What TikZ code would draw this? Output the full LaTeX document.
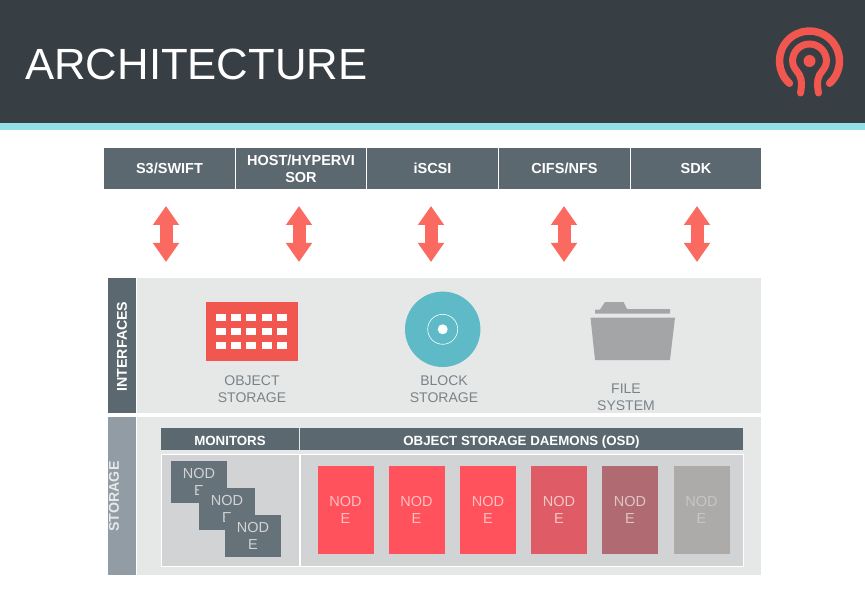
\documentclass[tikz,border=0pt]{standalone}
\usepackage{fontspec}
\setmainfont{Liberation Sans}
\usetikzlibrary{arrows.meta}

\definecolor{headdark}{HTML}{373E44}
\definecolor{headband}{HTML}{92E1E8}
\definecolor{slate}{HTML}{5C6870}
\definecolor{slatelight}{HTML}{929CA4}
\definecolor{panelgray}{HTML}{E6E8E8}
\definecolor{innergray}{HTML}{D1D3D5}
\definecolor{monitorgray}{HTML}{66727A}
\definecolor{arrowred}{HTML}{FB6A60}
\definecolor{iconred}{HTML}{F2574F}
\definecolor{icondisk}{HTML}{5DBAC6}
\definecolor{iconfolder}{HTML}{A3A5A7}
\definecolor{labelgray}{HTML}{7A8288}

\tikzset{
	bluntbox/.style={rectangle, inner sep=0pt, align=center},
	topbox/.style={bluntbox, fill=slate, text=white, minimum width=131, minimum height=41, font=\bfseries\fontsize{14.5}{17}\selectfont},
	sidetext/.style={bluntbox, rotate=90, font=\bfseries\fontsize{14.2}{16}\selectfont},
	headbox/.style={bluntbox, fill=slate, text=white, minimum height=22, text height=12, text depth=0, font=\bfseries\fontsize{13.3}{15}\selectfont},
	bodybox/.style={bluntbox, fill=innergray, draw=white, line width=1pt, minimum height=112},
	nodebox/.style={bluntbox, minimum width=56, font=\fontsize{14.5}{17}\selectfont},
	iconlabel/.style={bluntbox, text=labelgray, font=\fontsize{14}{17}\selectfont},
	updown/.style={line width=13pt, draw=arrowred, {Triangle[width=25pt,length=19pt]}-{Triangle[width=25pt,length=19pt]}}
}

\begin{document}
\begin{tikzpicture}[x=1pt,y=-1pt]
\useasboundingbox (0,0) rectangle (865,596);
\fill[white] (0,0) rectangle (865,596);
\fill[headdark] (0,0) rectangle (865,123);
\fill[headband] (0,123) rectangle (865,130);
\node[bluntbox, text=white, anchor=west, font=\fontsize{43.7}{50}\selectfont] (title) at (25,64) {ARCHITECTURE};

% logo
\begin{scope}[shift={(809.5,61)}, y=1pt, draw=iconred, line cap=round]
	\fill[iconred] (0,0) circle (6);
	\draw[line width=7.5pt] (228:30) arc (228:-48:30);
	\draw[line width=7pt] (-9,-32) .. controls (-8,-26) and (-7,-20) .. (-10,-14) .. controls (-13,-9) and (-17,-6) .. (-17,0) arc (180:0:17) .. controls (17,-6) and (13,-9) .. (10,-14) .. controls (7,-20) and (8,-26) .. (9,-32);
\end{scope}

% top row
\node[topbox] (s3) at (169.5,168.5) {S3/SWIFT};
\node[topbox, minimum width=130] (host) at (301,168.5) {HOST/HYPERVI\\SOR};
\node[topbox] (iscsi) at (432.5,168.5) {iSCSI};
\node[topbox] (cifs) at (564.5,168.5) {CIFS/NFS};
\node[topbox, minimum width=130] (sdk) at (696,168.5) {SDK};

\foreach \x in {166,299,431,564,697} {
	\coordinate (up\x) at (\x,206);
	\coordinate (down\x) at (\x,262);
	\draw[updown] (up\x) -- (down\x);
}

% interfaces
\node[bluntbox, fill=panelgray, minimum width=624, minimum height=135] (ifpanel) at (449,345.5) {};
\node[bluntbox, fill=slate, minimum width=28, minimum height=135] (ifbar) at (122,345.5) {};
\node[sidetext, text=white] (iftext) at (122,346.5) {INTERFACES};

\fill[iconred] (206,302) rectangle (298,361);
\foreach \x in {220.7,236,251.3,266.7,282}
	\foreach \y in {317.3,331,345}
		\fill[white] (\x-5,\y-3.5) rectangle (\x+5,\y+3.5);
\node[iconlabel] (objlabel) at (252,389) {OBJECT\\STORAGE};

\fill[icondisk] (442.7,329.3) circle (37.7);
\draw[white, line width=0.6pt] (442.7,329.3) circle (15);
\fill[white] (442.7,329.3) circle (5);
\node[iconlabel] (blocklabel) at (444,389) {BLOCK\\STORAGE};

\fill[iconfolder] (600,309.5) -- (605,302) -- (623.5,302) -- (627,309) -- (670,309) -- (670,313.5) -- (595,313.5) -- (595,309.5) -- cycle;
\fill[iconfolder] (590.5,317.5) -- (675,317.5) -- (670,360) -- (595,360) -- cycle;
\node[iconlabel] (filelabel) at (626,397) {FILE\\SYSTEM};

% storage
\node[bluntbox, fill=panelgray, minimum width=624, minimum height=158] (stpanel) at (449,496) {};
\node[bluntbox, fill=slatelight, minimum width=28, minimum height=158] (stbar) at (122,496) {};
\node[sidetext, text=panelgray] (sttext) at (114,496.5) {STORAGE};

\node[headbox, minimum width=138] (monhead) at (230,439) {MONITORS};
\node[headbox, minimum width=443] (osdhead) at (521.5,439) {OBJECT STORAGE DAEMONS (OSD)};
\node[bodybox, minimum width=138] (monbody) at (230,510) {};
\node[bodybox, minimum width=443] (osdbody) at (521.5,510) {};

\foreach \name/\x/\y in {mona/199/482,monb/227/509,monc/253/536}
	\node[nodebox, fill=monitorgray, text=innergray, minimum height=42] (\name) at (\x,\y) {NOD\\E};

\foreach \name/\x/\col/\txt in {osda/345.5/FF525C/FFC0C0,osdb/416.5/FF525C/FFC0C0,osdc/488/FF525C/FFC0C0,osdd/559/DF5C66/F8C4C8,osde/630/B06B72/E0C4C6,osdf/701.5/ADABA9/C6C6C4} {
	\definecolor{fillcol}{HTML}{\col}
	\definecolor{txtcol}{HTML}{\txt}
	\node[nodebox, fill=fillcol, text=txtcol, minimum height=88] (\name) at (\x,510) {NOD\\E};
}
\end{tikzpicture}
\end{document}
